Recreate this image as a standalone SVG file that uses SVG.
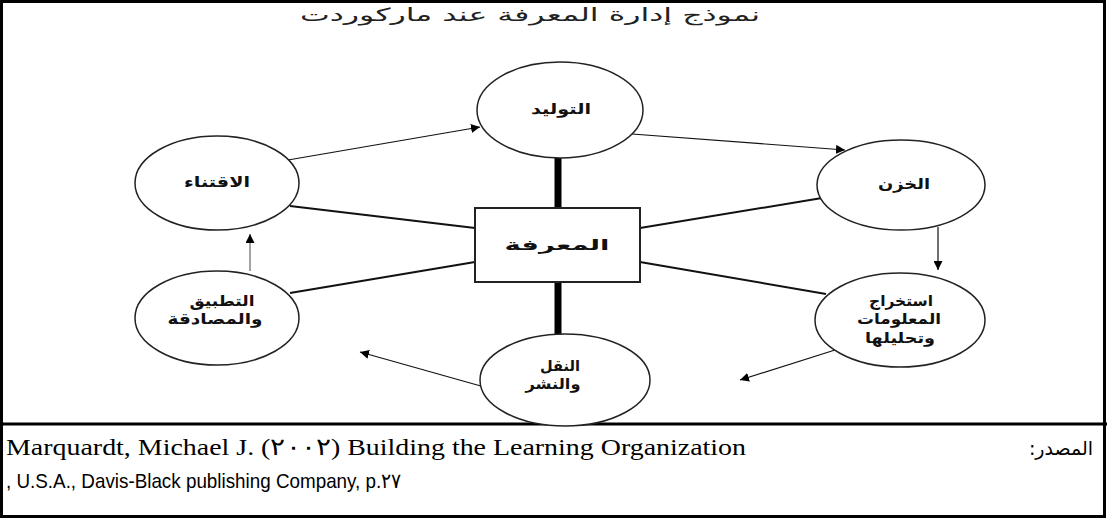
<svg xmlns="http://www.w3.org/2000/svg" width="1107" height="519" viewBox="0 0 1107 519">
<defs>
<style>
.node{fill:#fff;stroke:#222;stroke-width:1.5}
.lbl{font-family:"DejaVu Sans",sans-serif;font-weight:bold;font-size:15px;fill:#111;text-anchor:middle}
.link{stroke:#111;stroke-width:2;fill:none}
.arr{stroke:#111;stroke-width:1.2;fill:none;marker-end:url(#ah)}
.thick{stroke:#000;stroke-width:7}
</style>
<marker id="ah" viewBox="0 0 10 10" refX="10" refY="5" markerWidth="9" markerHeight="9" markerUnits="userSpaceOnUse" orient="auto">
<path d="M0,0 L10,5 L0,10 z" fill="#000"/>
</marker>
</defs>
<rect x="0" y="0" width="1107" height="519" fill="#fff"/>
<rect x="1.5" y="1.5" width="1103" height="515" fill="none" stroke="#000" stroke-width="3"/>
<line x1="0" y1="424" x2="1107" y2="424" stroke="#000" stroke-width="3"/>
<text x="530" y="21" font-family="DejaVu Sans, sans-serif" font-size="18" text-anchor="middle" fill="#222" textLength="460" lengthAdjust="spacingAndGlyphs">نموذج إدارة المعرفة عند ماركوردت</text>

<g id="connectors">
<line class="thick" x1="558" y1="157" x2="558" y2="209"/>
<line class="thick" x1="558" y1="281" x2="558" y2="335"/>
<line class="link" x1="290" y1="206" x2="475" y2="228"/>
<line class="link" x1="475" y1="262" x2="290" y2="293"/>
<line class="link" x1="640" y1="228" x2="822" y2="198"/>
<line class="link" x1="640" y1="262" x2="826" y2="294"/>
<line class="arr" x1="288" y1="160" x2="480" y2="127"/>
<line class="arr" x1="632" y1="134" x2="845" y2="150"/>
<line class="arr" x1="938" y1="227" x2="938" y2="270"/>
<line class="arr" x1="835" y1="350" x2="740" y2="380"/>
<line class="arr" x1="495" y1="390" x2="360" y2="352"/>
<line class="arr" x1="250" y1="271" x2="250" y2="234" style="stroke:#666"/>
</g>

<g id="node-generation">
<ellipse class="node" cx="560" cy="110" rx="83" ry="48"/>
<text class="lbl" x="561" y="114" textLength="60" lengthAdjust="spacingAndGlyphs">التوليد</text>
</g>
<g id="node-acquisition">
<ellipse class="node" cx="217" cy="183" rx="82" ry="47"/>
<text class="lbl" x="217" y="187" textLength="66" lengthAdjust="spacingAndGlyphs">الاقتناء</text>
</g>
<g id="node-storage">
<ellipse class="node" cx="901" cy="185" rx="84" ry="45"/>
<text class="lbl" x="904" y="189" textLength="52" lengthAdjust="spacingAndGlyphs">الخزن</text>
</g>
<g id="node-extraction">
<ellipse class="node" cx="900" cy="320" rx="85" ry="47"/>
<text class="lbl" x="901" y="306" textLength="64" lengthAdjust="spacingAndGlyphs">استخراج</text>
<text class="lbl" x="899" y="324" textLength="84" lengthAdjust="spacingAndGlyphs">المعلومات</text>
<text class="lbl" x="900" y="343" textLength="70" lengthAdjust="spacingAndGlyphs">وتحليلها</text>
</g>
<g id="node-transfer">
<ellipse class="node" cx="565" cy="380" rx="85" ry="46"/>
<text class="lbl" x="560" y="371" textLength="40" lengthAdjust="spacingAndGlyphs">النقل</text>
<text class="lbl" x="553" y="389" textLength="55" lengthAdjust="spacingAndGlyphs">والنشر</text>
</g>
<g id="node-application">
<ellipse class="node" cx="217" cy="318" rx="82" ry="47"/>
<text class="lbl" x="222" y="306" textLength="65" lengthAdjust="spacingAndGlyphs">التطبيق</text>
<text class="lbl" x="215" y="324" textLength="95" lengthAdjust="spacingAndGlyphs">والمصادقة</text>
</g>
<g id="node-knowledge">
<rect x="475" y="208" width="165" height="74" fill="#fff" stroke="#222" stroke-width="2"/>
<text class="lbl" x="557" y="250" font-size="19" textLength="105" lengthAdjust="spacingAndGlyphs">المعرفة</text>
</g>

<g id="source">
<text x="6" y="455" font-family="Liberation Serif, serif" font-size="24" fill="#000" textLength="740" lengthAdjust="spacingAndGlyphs">Marquardt, Michael J. (٢٠٠٢) Building the Learning Organization</text>
<text x="1093" y="455" font-family="DejaVu Sans, sans-serif" font-size="19" direction="rtl" unicode-bidi="embed" text-anchor="start" fill="#000">المصدر:</text>
<text x="6" y="488" font-family="Liberation Sans, sans-serif" font-size="21" fill="#000" textLength="395" lengthAdjust="spacingAndGlyphs">, U.S.A., Davis-Black publishing Company, p.٢٧</text>
</g>
</svg>
